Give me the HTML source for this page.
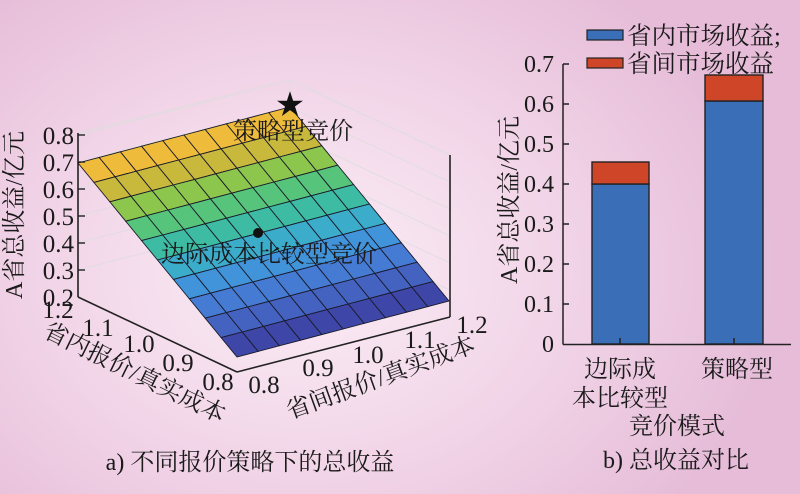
<!DOCTYPE html>
<html><head><meta charset="utf-8"><style>
html,body{margin:0;padding:0}
body{width:800px;height:494px;overflow:hidden;background:radial-gradient(ellipse 60% 75% at 38% 55%,#fbeef6 0%,#f1d4e7 55%,#e6bcd8 100%);}
svg{position:absolute;left:0;top:0}
text{font-family:"Liberation Serif","Noto Serif CJK SC",serif;fill:#1a1a1a}
</style></head><body>
<svg id="s" width="800" height="494" xmlns="http://www.w3.org/2000/svg">
<g id="surf"></g>
<g stroke="#222" stroke-width="1.6" fill="none">
<line x1="78" y1="133" x2="78" y2="297"/>
<line x1="78" y1="297" x2="237" y2="372"/>
<line x1="237" y1="372" x2="450" y2="317"/>
<line x1="450" y1="155" x2="450" y2="317"/>
</g>
<g stroke="#222" stroke-width="1.4">
<line x1="78" y1="135" x2="85" y2="135"/><line x1="78" y1="162" x2="85" y2="162"/><line x1="78" y1="189" x2="85" y2="189"/><line x1="78" y1="216" x2="85" y2="216"/><line x1="78" y1="243" x2="85" y2="243"/><line x1="78" y1="270" x2="85" y2="270"/>
</g>
<g font-size="25" text-anchor="end">
<text x="74" y="144">0.8</text><text x="74" y="171">0.7</text><text x="74" y="198">0.6</text><text x="74" y="225">0.5</text><text x="74" y="252">0.4</text><text x="74" y="279">0.3</text><text x="74" y="306">0.2</text>
</g>
<g font-size="25" text-anchor="middle">
<text x="58" y="318">1.2</text><text x="98" y="336">1.1</text><text x="139" y="352">1.0</text><text x="178" y="371">0.9</text><text x="218" y="390">0.8</text>
<text x="264" y="393">0.8</text><text x="318" y="376">0.9</text><text x="368" y="363">1.0</text><text x="420" y="348">1.1</text><text x="472" y="333">1.2</text>
</g>
<text font-size="24" transform="translate(42,336) rotate(26)">省内报价/真实成本</text>
<text font-size="24" transform="translate(290,419) rotate(-20)">省间报价/真实成本</text>
<text font-size="24" text-anchor="middle" transform="translate(22,215) rotate(-90)">A省总收益/亿元</text>
<text x="290" y="114" font-size="28" text-anchor="middle" style="fill:#111">★</text>
<text x="293" y="139" font-size="24" text-anchor="middle">策略型竞价</text>
<circle cx="258" cy="233" r="5" fill="#111"/>
<text x="269" y="262" font-size="24" text-anchor="middle">边际成本比较型竞价</text>
<text x="250" y="470" font-size="24" text-anchor="middle">a) 不同报价策略下的总收益</text>

<rect x="592" y="184" width="57" height="160" fill="#3a6fb8" stroke="#222" stroke-width="1.4"/>
<rect x="592" y="162" width="57" height="22" fill="#cf4527" stroke="#222" stroke-width="1.4"/>
<rect x="705" y="101" width="58" height="243" fill="#3a6fb8" stroke="#222" stroke-width="1.4"/>
<rect x="705" y="75" width="58" height="26" fill="#cf4527" stroke="#222" stroke-width="1.4"/>
<g stroke="#222" stroke-width="1.5">
<line x1="563" y1="64" x2="563" y2="344.5"/><line x1="563" y1="344.5" x2="791" y2="344.5"/>
<line x1="563" y1="64" x2="569" y2="64"/><line x1="563" y1="104" x2="569" y2="104"/><line x1="563" y1="144" x2="569" y2="144"/><line x1="563" y1="184" x2="569" y2="184"/><line x1="563" y1="224" x2="569" y2="224"/><line x1="563" y1="264" x2="569" y2="264"/><line x1="563" y1="304" x2="569" y2="304"/>
<line x1="620" y1="344" x2="620" y2="338"/><line x1="734" y1="344" x2="734" y2="338"/>
</g>
<g font-size="24" text-anchor="end">
<text x="554" y="72">0.7</text><text x="554" y="112">0.6</text><text x="554" y="152">0.5</text><text x="554" y="192">0.4</text><text x="554" y="232">0.3</text><text x="554" y="272">0.2</text><text x="554" y="312">0.1</text><text x="554" y="352">0</text>
</g>
<text font-size="24" text-anchor="middle" transform="translate(517,200) rotate(-90)">A省总收益/亿元</text>
<rect x="587" y="30" width="36" height="10" fill="#3a6fb8" stroke="#222" stroke-width="1.2"/>
<rect x="587" y="58" width="36" height="10" fill="#cf4527" stroke="#222" stroke-width="1.2"/>
<text x="627" y="44" font-size="24.5">省内市场收益;</text>
<text x="627" y="72" font-size="24.5">省间市场收益</text>
<g font-size="24" text-anchor="middle">
<text x="620" y="377">边际成</text><text x="620" y="406">本比较型</text><text x="737" y="377">策略型</text>
<text x="677" y="434">竞价模式</text>
</g>
<text x="676" y="468" font-size="24" text-anchor="middle">b) 总收益对比</text>
</svg>
<script>
var g=document.getElementById('surf'),NS='http://www.w3.org/2000/svg';
var TL=[78,163],TR=[290,107],F=[237,357];
var cols=['#eebc3a','#c8b83c','#8cc64c','#56c47a','#3dbba3','#3caccb','#4294da','#457bd2','#4462c0','#3e47a8'];
function P(u,v){return [TL[0]+u*(TR[0]-TL[0])+v*(F[0]-TL[0]),TL[1]+u*(TR[1]-TL[1])+v*(F[1]-TL[1])];}
var bg=[[78,133,290,80],[290,80,450,155],[290,80,290,107]];
for(var k=0;k<6;k++){var y=135+k*27;bg.push([78,y,290,y-55]);bg.push([290,y-55,450,y+20]);}
bg.forEach(function(l){var e=document.createElementNS(NS,'line');e.setAttribute('x1',l[0]);e.setAttribute('y1',l[1]);e.setAttribute('x2',l[2]);e.setAttribute('y2',l[3]);e.setAttribute('stroke','#ddd');e.setAttribute('stroke-width','0.8');g.appendChild(e);});
var N=10;
for(var i=0;i<N;i++)for(var j=0;j<N;j++){
var a=P(i/N,j/N),b=P((i+1)/N,j/N),c=P((i+1)/N,(j+1)/N),d=P(i/N,(j+1)/N);
var e=document.createElementNS(NS,'polygon');
e.setAttribute('points',[a,b,c,d].map(function(p){return p.join(',')}).join(' '));
e.setAttribute('fill',cols[j]);e.setAttribute('stroke','#1a1a2a');e.setAttribute('stroke-width','0.9');
g.appendChild(e);}
</script>
</body></html>
